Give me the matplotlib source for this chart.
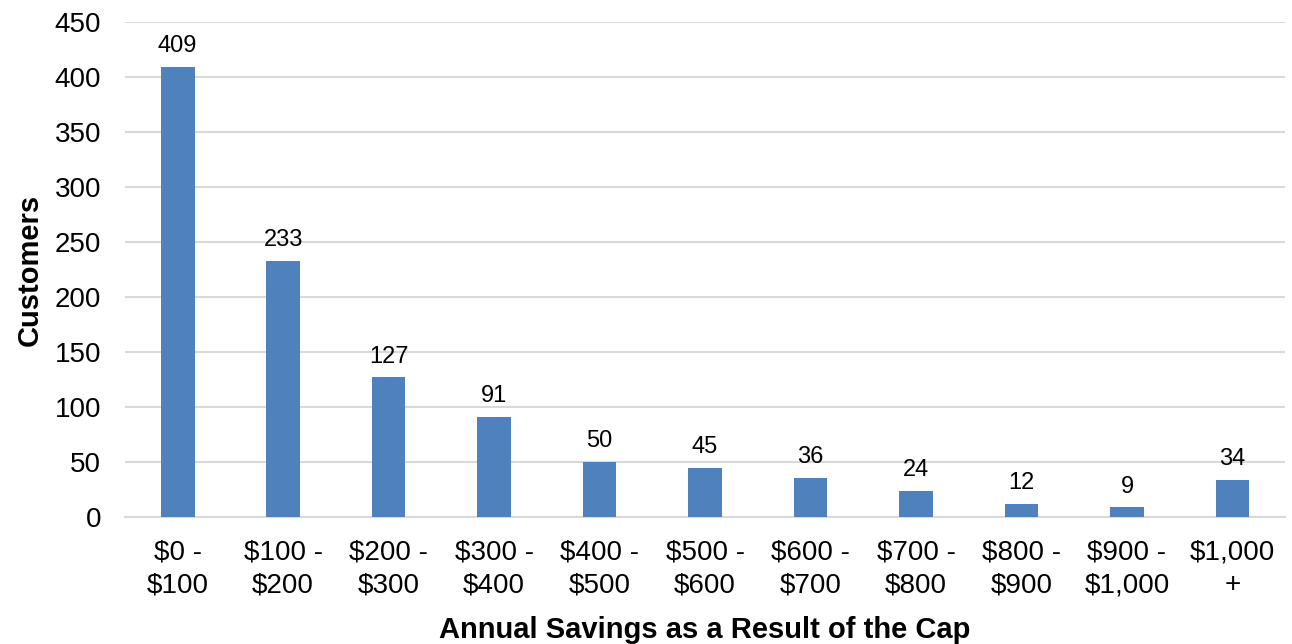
import numpy as np
import matplotlib
matplotlib.use('Agg')
import matplotlib.pyplot as plt

categories = ['$0 -\n$100', '$100 -\n$200', '$200 -\n$300', '$300 -\n$400', '$400 -\n$500',
              '$500 -\n$600', '$600 -\n$700', '$700 -\n$800', '$800 -\n$900', '$900 -\n$1,000',
              '$1,000\n+']
customers = [409, 233, 127, 91, 50, 45, 36, 24, 12, 9, 34]
yticks = [0, 50, 100, 150, 200, 250, 300, 350, 400, 450]

plt.rcParams['font.family'] = ['Liberation Sans', 'DejaVu Sans']

fig = plt.figure(figsize=(12.92, 6.44), dpi=100)
ax = fig.add_axes([0.0967, 0.197, 0.898, 0.769])

x = np.arange(len(categories))
ax.bar(x, customers, width=0.32, color='#4F81BD', zorder=3)
for xi, v in zip(x, customers):
    ax.annotate(str(v), (xi, v), xytext=(0, 7), textcoords='offset points',
                ha='center', va='bottom', fontsize=17)

ax.set_ylim(0, 450)
ax.set_xlim(-0.5, len(categories) - 0.5)
ax.set_yticks(yticks)
ax.set_xticks(x)
ax.set_xticklabels(categories, fontsize=20, linespacing=1.35)
ax.tick_params(axis='y', labelsize=20, length=0, pad=17)
ax.tick_params(axis='x', length=0, pad=16)
ax.grid(axis='y', color='#D9D9D9', linewidth=1.5, zorder=0)
for s in ['top', 'right', 'left']:
    ax.spines[s].set_visible(False)
ax.spines['bottom'].set_color('#D9D9D9')
ax.spines['bottom'].set_linewidth(1.5)

ax.set_ylabel('Customers', fontsize=21, fontweight='bold', labelpad=8)
ax.set_xlabel('Annual Savings as a Result of the Cap', fontsize=21, fontweight='bold', labelpad=13)

fig.savefig('out.png', dpi=100)
